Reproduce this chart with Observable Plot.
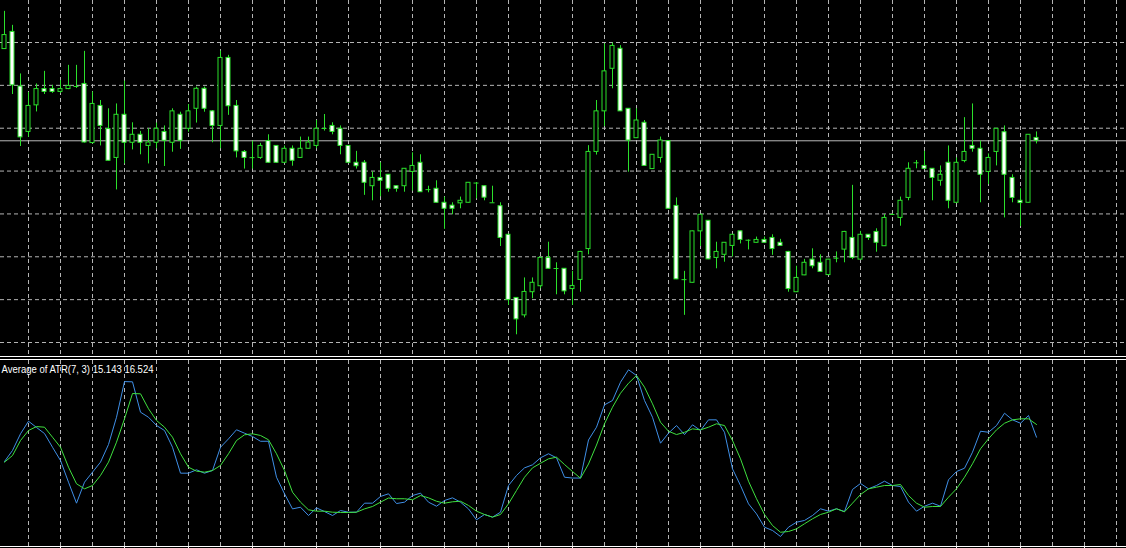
<!DOCTYPE html>
<html>
<head>
<meta charset="utf-8">
<script src="https://cdn.jsdelivr.net/npm/d3@7"></script>
<script src="https://cdn.jsdelivr.net/npm/@observablehq/plot@0.6"></script>
<style>
  html, body { margin: 0; padding: 0; background: #000; }
  #chart { width: 1126px; height: 548px; overflow: hidden; background: #000; }
  #chart svg { display: block; }
  .separator { height: 2px; border-top: 1px solid #fff; border-bottom: 1px solid #fff; background: #000; }
</style>
</head>
<body>
<div id="chart"></div>
<script>
// OHLC bars, oldest first
const highs = [
  1315.9, 1311.0, 1294.0, 1287.5, 1290.5, 1294.9, 1290.0, 1291.7, 1297.0, 1297.0,
  1301.9, 1287.7, 1284.7, 1281.8, 1283.5, 1291.5, 1276.9, 1273.9, 1274.8, 1276.8,
  1275.8, 1281.8, 1280.6, 1283.3, 1289.4, 1289.4, 1281.2, 1302.0, 1300.5, 1284.7,
  1267.2, 1270.5, 1269.7, 1272.7, 1268.9, 1268.8, 1268.8, 1271.9, 1271.9, 1277.7,
  1279.8, 1276.9, 1275.8, 1268.9, 1266.9, 1263.7, 1259.7, 1262.9, 1258.8, 1254.8,
  1260.9, 1266.4, 1265.7, 1254.7, 1256.6, 1250.9, 1248.9, 1250.9, 1256.0, 1256.0,
  1254.8, 1254.7, 1248.9, 1237.8, 1215.7, 1222.6, 1222.6, 1229.8, 1235.1, 1227.9,
  1225.9, 1224.9, 1231.9, 1268.9, 1284.7, 1304.5, 1304.8, 1303.9, 1281.9, 1281.8,
  1277.7, 1265.8, 1271.9, 1270.7, 1250.6, 1224.9, 1239.0, 1244.8, 1242.7, 1235.1,
  1235.0, 1237.8, 1239.0, 1235.9, 1236.9, 1236.9, 1237.7, 1236.1, 1231.9, 1226.7,
  1229.1, 1232.8, 1230.7, 1229.1, 1231.7, 1238.9, 1255.0, 1238.9, 1237.8, 1239.8,
  1244.8, 1245.0, 1250.9, 1262.9, 1263.7, 1266.9, 1260.9, 1261.8, 1268.8, 1264.6,
  1278.7, 1283.5, 1270.5, 1266.0, 1274.9, 1275.8, 1258.7, 1253.8, 1272.8, 1273.7
];
const opens = [
  1302.7, 1308.7, 1289.6, 1273.7, 1283.0, 1288.7, 1288.7, 1287.7, 1288.7, 1289.8,
  1290.5, 1269.8, 1282.8, 1274.7, 1264.6, 1279.7, 1269.9, 1272.7, 1268.8, 1269.9,
  1273.7, 1269.9, 1279.7, 1274.8, 1281.8, 1288.8, 1280.9, 1275.8, 1299.6, 1282.8,
  1266.7, 1264.6, 1264.6, 1270.5, 1268.8, 1262.9, 1267.8, 1264.6, 1267.8, 1268.8,
  1274.8, 1275.8, 1274.8, 1268.8, 1262.9, 1262.9, 1254.7, 1257.6, 1258.7, 1254.7,
  1254.7, 1259.7, 1262.9, 1253.6, 1253.8, 1248.9, 1247.9, 1248.7, 1248.9, 1255.9,
  1254.7, 1249.0, 1247.7, 1237.7, 1215.6, 1209.5, 1217.6, 1219.7, 1229.6, 1225.8,
  1225.8, 1218.7, 1221.9, 1232.7, 1266.7, 1280.9, 1295.8, 1302.8, 1281.8, 1271.5,
  1276.9, 1260.7, 1264.6, 1270.5, 1247.8, 1222.1, 1220.9, 1238.9, 1242.6, 1229.6,
  1230.7, 1233.8, 1238.9, 1235.8, 1234.9, 1235.9, 1236.6, 1234.9, 1231.7, 1217.6,
  1223.5, 1229.0, 1227.9, 1223.6, 1229.6, 1232.5, 1236.6, 1229.0, 1237.7, 1238.7,
  1233.7, 1244.7, 1243.6, 1250.6, 1262.9, 1261.8, 1260.8, 1256.6, 1262.9, 1248.9,
  1263.5, 1268.8, 1267.8, 1259.7, 1266.7, 1273.6, 1257.6, 1249.6, 1248.9, 1271.6
];
const closes = [
  1307.6, 1290.0, 1271.8, 1282.8, 1288.7, 1287.7, 1287.7, 1288.7, 1289.8, 1289.6,
  1270.0, 1283.5, 1275.8, 1263.6, 1279.7, 1269.9, 1272.7, 1269.9, 1270.0, 1274.8,
  1270.6, 1280.9, 1270.6, 1280.9, 1288.8, 1281.8, 1275.8, 1299.6, 1282.7, 1266.9,
  1264.6, 1264.7, 1268.8, 1262.9, 1262.9, 1267.8, 1263.6, 1267.8, 1270.0, 1274.8,
  1274.9, 1273.7, 1268.8, 1262.9, 1261.7, 1255.9, 1257.6, 1256.6, 1253.8, 1253.8,
  1260.8, 1261.8, 1252.6, 1253.5, 1248.9, 1246.8, 1246.8, 1249.6, 1255.9, 1255.8,
  1250.7, 1248.9, 1236.6, 1214.9, 1208.1, 1217.7, 1220.9, 1229.6, 1225.8, 1225.9,
  1217.9, 1219.8, 1231.7, 1266.7, 1280.9, 1294.9, 1303.8, 1280.9, 1270.7, 1277.7,
  1261.8, 1265.7, 1270.7, 1246.8, 1222.1, 1222.0, 1238.9, 1244.7, 1229.1, 1231.7,
  1234.9, 1237.7, 1235.9, 1235.8, 1235.9, 1234.9, 1232.7, 1233.8, 1218.7, 1222.6,
  1227.9, 1226.7, 1224.7, 1229.0, 1229.5, 1238.7, 1229.6, 1237.7, 1236.6, 1234.9,
  1243.6, 1244.8, 1249.6, 1260.8, 1262.9, 1260.8, 1257.6, 1258.7, 1249.6, 1262.9,
  1266.7, 1267.8, 1258.7, 1264.6, 1274.8, 1258.7, 1250.6, 1248.8, 1272.7, 1270.6
];
const lows = [
  1302.6, 1286.8, 1268.6, 1271.8, 1280.7, 1286.8, 1287.2, 1287.2, 1288.5, 1288.9,
  1269.8, 1269.5, 1268.8, 1263.5, 1253.4, 1262.5, 1267.4, 1265.7, 1262.5, 1267.8,
  1261.6, 1266.6, 1267.6, 1273.6, 1276.8, 1280.6, 1269.9, 1267.8, 1279.5, 1264.6,
  1260.7, 1260.7, 1264.1, 1262.7, 1262.7, 1262.7, 1261.7, 1264.5, 1267.7, 1267.8,
  1274.0, 1272.7, 1265.7, 1262.7, 1260.7, 1251.5, 1249.6, 1251.0, 1252.6, 1252.6,
  1252.6, 1253.0, 1252.5, 1252.4, 1248.8, 1239.6, 1244.7, 1246.8, 1248.8, 1250.3,
  1249.6, 1248.8, 1233.6, 1213.0, 1202.7, 1208.6, 1215.3, 1218.8, 1225.7, 1216.7,
  1216.7, 1213.0, 1217.6, 1230.7, 1265.6, 1275.6, 1288.8, 1280.8, 1259.6, 1271.4,
  1261.7, 1260.6, 1262.8, 1246.7, 1222.0, 1209.5, 1220.8, 1233.6, 1229.0, 1225.8,
  1228.1, 1229.9, 1234.5, 1232.4, 1234.8, 1234.8, 1230.5, 1233.7, 1217.6, 1217.5,
  1223.4, 1225.8, 1224.6, 1223.5, 1227.9, 1227.9, 1229.0, 1228.9, 1235.7, 1231.6,
  1233.6, 1244.5, 1240.7, 1249.6, 1260.8, 1260.7, 1249.6, 1254.7, 1246.8, 1248.8,
  1262.9, 1266.6, 1248.9, 1255.3, 1261.8, 1243.6, 1248.9, 1240.6, 1248.8, 1269.5
];

// Average of ATR(7, 3): the ATR line and its 3-bar average
const atrPeriod = 7;
const averagePeriod = 3;
const atrValues = [
  12.50, 13.70, 15.51, 16.88, 16.20, 15.54, 14.05, 12.61, 10.25, 7.97,
  10.25, 11.34, 12.43, 14.35, 17.31, 21.19, 21.16, 17.86, 17.31, 16.42,
  15.87, 14.05, 11.23, 11.23, 11.60, 11.23, 11.52, 14.05, 14.96, 15.95,
  15.58, 15.22, 14.70, 14.70, 10.79, 8.99, 7.35, 7.53, 6.63, 7.46,
  7.06, 6.63, 7.17, 6.99, 6.99, 7.97, 7.97, 8.70, 8.99, 7.93,
  8.08, 8.80, 9.06, 8.08, 7.64, 8.26, 8.55, 8.08, 7.35, 6.16,
  6.74, 6.45, 6.99, 9.89, 10.98, 11.81, 12.14, 12.90, 13.34, 12.90,
  10.79, 10.70, 10.70, 14.84, 16.23, 18.66, 19.13, 21.12, 22.47, 21.85,
  19.13, 17.31, 14.49, 15.58, 16.41, 15.43, 16.49, 15.87, 17.03, 17.03,
  15.68, 11.70, 9.89, 7.90, 6.81, 5.36, 5.00, 4.35, 5.36, 5.90,
  6.09, 6.63, 7.36, 7.10, 7.36, 7.06, 9.46, 10.11, 9.53, 9.89,
  10.36, 9.89, 9.78, 8.08, 7.10, 7.64, 7.97, 7.64, 10.51, 11.41,
  11.77, 13.51, 15.79, 15.68, 16.41, 17.75, 17.03, 16.66, 17.50, 15.143
];
const atrAverage = [
  12.43, 13.15, 14.78, 15.87, 16.30, 16.23, 15.14, 14.05, 11.88, 10.08,
  9.53, 9.89, 10.98, 12.43, 14.60, 17.14, 19.89, 19.86, 18.23, 16.96,
  16.23, 15.14, 13.34, 11.88, 11.45, 11.34, 11.52, 12.07, 13.34, 14.78,
  15.40, 15.51, 15.33, 14.86, 13.34, 11.52, 9.16, 8.08, 7.25, 7.10,
  7.10, 6.99, 6.96, 6.96, 6.99, 7.35, 7.61, 8.08, 8.53, 8.45,
  8.45, 8.34, 8.80, 8.55, 8.18, 7.97, 8.12, 8.18, 7.72, 7.10,
  6.74, 6.45, 6.74, 7.90, 9.35, 10.79, 11.81, 12.31, 12.79, 12.97,
  12.17, 11.41, 10.68, 12.23, 14.29, 16.60, 18.40, 19.92, 21.01, 21.85,
  20.58, 18.77, 16.77, 15.79, 15.43, 15.68, 16.05, 15.94, 16.23, 16.60,
  16.41, 14.78, 12.79, 10.36, 8.45, 6.74, 5.54, 4.81, 4.89, 5.18,
  5.73, 6.27, 6.74, 6.99, 7.36, 7.03, 7.97, 8.91, 9.53, 9.71,
  9.89, 9.89, 10.00, 8.80, 7.97, 7.53, 7.61, 7.61, 8.62, 9.53,
  10.79, 12.25, 13.88, 14.97, 15.94, 16.66, 17.03, 17.14, 17.14, 16.524
];

// Horizontal price grid levels and bar positions of the time grid
const priceLevels = [1200, 1215, 1230, 1245, 1260, 1275, 1290, 1305];
const gridBars = d3.range(3, 141, 4);
const timeTicks = d3.range(7, 141, 8);

// Colours (green-on-black terminal scheme)
const gridColor = "#b4b4b4";
const gridDash = "4,3";
const candleLine = "#2be02b";
const bullFill = "#000000";
const bearFill = "#ffffff";
const atrColor = "#3f8fe6";
const avgColor = "#3fe03f";

const candles = highs.map((high, i) => ({ i, high, low: lows[i], open: opens[i], close: closes[i] }));
const bodies = candles.filter(d => Math.abs(d.open - d.close) >= 0.3);
const dojis = candles.filter(d => Math.abs(d.open - d.close) < 0.3);

const atrSeries = atrValues.map((v, i) => ({ i, v }));
const avgSeries = atrAverage.map((v, i) => ({ i, v }));

const xOptions = { type: "linear", domain: [-0.5, 140.25], axis: null };

const pricePanel = Plot.plot({
  width: 1126, height: 356, margin: 0,
  style: { background: "#000" },
  x: xOptions,
  y: { domain: [1195.1, 1319.7], axis: null },
  marks: [
    Plot.ruleX(gridBars, { stroke: gridColor, strokeDasharray: gridDash }),
    Plot.ruleY(priceLevels, { stroke: gridColor, strokeDasharray: gridDash }),
    Plot.ruleY([closes[closes.length - 1]], { stroke: "#b8b8b8" }),
    Plot.ruleX(candles, { x: "i", y1: "low", y2: "high", stroke: candleLine }),
    Plot.rect(bodies, {
      x1: d => d.i - 0.25, x2: d => d.i + 0.25, y1: "open", y2: "close",
      fill: d => (d.close > d.open ? bullFill : bearFill), stroke: candleLine
    }),
    Plot.ruleY(dojis, { x1: d => d.i - 0.3125, x2: d => d.i + 0.3125, y: "close", stroke: candleLine })
  ]
});

const label = `Average of ATR(${atrPeriod}, ${averagePeriod}) ${atrValues[atrValues.length - 1].toFixed(3)} ${atrAverage[atrAverage.length - 1].toFixed(3)}`;

const atrPanel = Plot.plot({
  width: 1126, height: 188, marginTop: 0, marginLeft: 0, marginRight: 0, marginBottom: 2,
  style: { background: "#000", overflow: "visible" },
  x: xOptions,
  y: { domain: [3.26, 23.48], axis: null },
  marks: [
    Plot.ruleX(gridBars, { stroke: gridColor, strokeDasharray: gridDash }),
    Plot.line(atrSeries, { x: "i", y: "v", stroke: atrColor, strokeWidth: 1 }),
    Plot.line(avgSeries, { x: "i", y: "v", stroke: avgColor, strokeWidth: 1 }),
    Plot.frame({ anchor: "bottom", stroke: "#ffffff" }),
    Plot.axisX(timeTicks, { anchor: "bottom", tickSize: 3, tickFormat: () => "", stroke: "#ffffff" }),
    Plot.text([label], {
      frameAnchor: "top-left", dx: 1, dy: 12, lineAnchor: "bottom", textAnchor: "start",
      fill: "#ffffff", fontSize: 10.5, fontFamily: "Liberation Sans, Arial, sans-serif"
    })
  ]
});

// fit the indicator caption to its compact terminal width
for (const t of atrPanel.querySelectorAll("text")) {
  if (t.textContent === label) {
    t.setAttribute("textLength", "152");
    t.setAttribute("lengthAdjust", "spacingAndGlyphs");
  }
}

const chart = document.getElementById("chart");
chart.append(pricePanel);
const sep = document.createElement("div");
sep.className = "separator";
chart.append(sep);
chart.append(atrPanel);
</script>
</body>
</html>
